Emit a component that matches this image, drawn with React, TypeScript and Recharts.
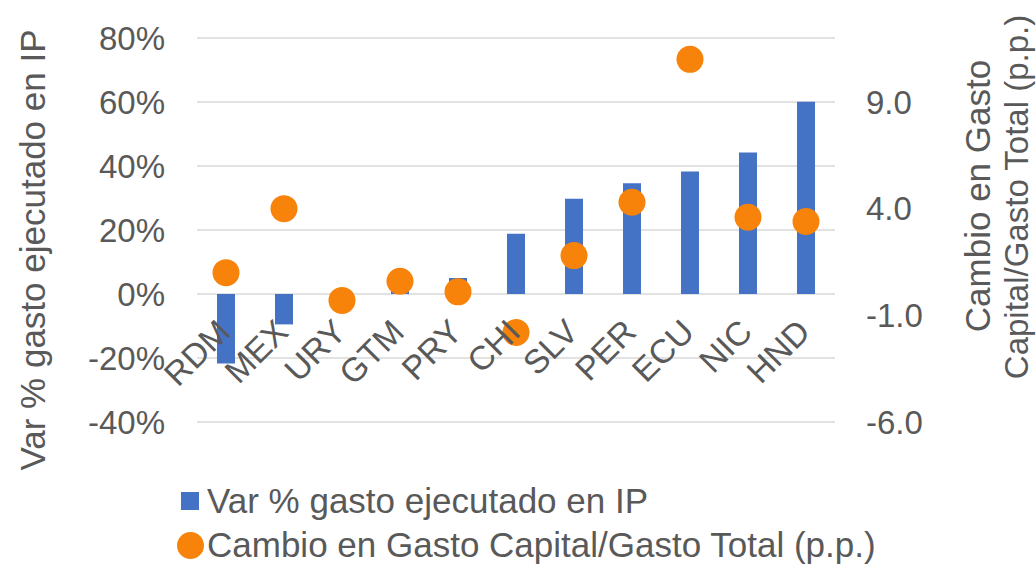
import React from 'react';
import { ComposedChart, Bar, Line, XAxis, YAxis, CartesianGrid, Legend } from 'recharts';

const paises = ['RDM', 'MEX', 'URY', 'GTM', 'PRY', 'CHI', 'SLV', 'PER', 'ECU', 'NIC', 'HND'];
const varGasto = [-21.7, -9.5, 0, 3.2, 5, 18.8, 29.8, 34.6, 38.3, 44.2, 60.1];
const cambioCapital = [1.0, 4.0, -0.3, 0.6, 0.1, -1.8, 1.8, 4.3, 11.0, 3.6, 3.4];

const leftTicks = [-40, -20, 0, 20, 40, 60, 80];
const rightTicks = [-6, -1, 4, 9];
const rightDomain = [-6, 12];

const serieBarras = 'Var % gasto ejecutado en IP';
const serieDots = 'Cambio en Gasto Capital/Gasto Total (p.p.)';
const tituloIzq = 'Var % gasto ejecutado en IP';
const tituloDer = ['Cambio en Gasto', 'Capital/Gasto Total (p.p.)'];

const data = paises.map((pais, i) => ({ pais, varGasto: varGasto[i], cambio: cambioCapital[i] }));

const W = 1036;
const H = 564;
const TOP = 38;
const X_AXIS_H = 142;
const PLOT_H = H - TOP - X_AXIS_H;
const LEFT_MIN = leftTicks[0];
const LEFT_MAX = leftTicks[leftTicks.length - 1];
// y of the zero line, where Excel puts the category labels
const zeroY = TOP + (PLOT_H * LEFT_MAX) / (LEFT_MAX - LEFT_MIN);

const GREY = '#595959';
const BLUE = '#4472C4';
const ORANGE = '#F7830A';
const FONT = '"Liberation Sans", Arial, sans-serif';

const CategoryTick = (props: any) => {
  const { x, payload } = props;
  const ax = x + 6;
  const ay = zeroY + 40;
  return (
    <text
      x={ax}
      y={ay}
      textAnchor="end"
      fill={GREY}
      fontSize={33.5}
      fontFamily={FONT}
      transform={`rotate(-45 ${ax} ${ay})`}
    >
      {payload.value}
    </text>
  );
};

const LeftTitle = () => (
  <text
    x={32}
    y={250}
    textAnchor="middle"
    dominantBaseline="central"
    fill={GREY}
    fontSize={35}
    fontFamily={FONT}
    transform="rotate(-90 32 250)"
  >
    {tituloIzq}
  </text>
);

// second line is slightly smaller so it fits inside the top edge
const RightTitle = () => (
  <g>
    <text
      x={977}
      y={196}
      textAnchor="middle"
      dominantBaseline="central"
      fill={GREY}
      fontSize={35}
      fontFamily={FONT}
      transform="rotate(-90 977 196)"
    >
      {tituloDer[0]}
    </text>
    <text
      x={1016}
      y={197}
      textAnchor="middle"
      dominantBaseline="central"
      fill={GREY}
      fontSize={33}
      fontFamily={FONT}
      transform="rotate(-90 1016 197)"
    >
      {tituloDer[1]}
    </text>
  </g>
);

const LegendContent = () => (
  <div style={{ fontFamily: FONT, color: GREY, fontSize: 35, lineHeight: '44px' }}>
    <div style={{ display: 'flex', alignItems: 'center' }}>
      <span style={{ width: 18, height: 18, background: BLUE, marginLeft: 8, marginRight: 8 }} />
      <span>{serieBarras}</span>
    </div>
    <div style={{ display: 'flex', alignItems: 'center' }}>
      <span style={{ width: 27, height: 27, borderRadius: '50%', background: ORANGE, marginLeft: 4, marginRight: 3 }} />
      <span>{serieDots}</span>
    </div>
  </div>
);

export default function App() {
  return (
    <div style={{ position: 'absolute', left: 0, top: 0, width: W, height: H, background: '#fff' }}>
      <ComposedChart width={W} height={H} data={data} margin={{ top: TOP, right: 0, bottom: 0, left: 0 }}>
        <CartesianGrid yAxisId="left" vertical={false} stroke="#D9D9D9" strokeWidth={1.5} />
        <XAxis
          dataKey="pais"
          height={X_AXIS_H}
          axisLine={false}
          tickLine={false}
          interval={0}
          tick={<CategoryTick />}
        />
        <YAxis
          yAxisId="left"
          orientation="left"
          width={197}
          domain={[LEFT_MIN, LEFT_MAX]}
          ticks={leftTicks}
          tickFormatter={(v: number) => `${v}%`}
          axisLine={false}
          tickLine={false}
          tickSize={0}
          tickMargin={32}
          tick={{ fill: GREY, fontSize: 33, fontFamily: FONT }}
          label={<LeftTitle />}
        />
        <YAxis
          yAxisId="right"
          orientation="right"
          width={201}
          domain={rightDomain}
          ticks={rightTicks}
          tickFormatter={(v: number) => v.toFixed(1)}
          axisLine={false}
          tickLine={false}
          tickSize={0}
          tickMargin={31}
          tick={{ fill: GREY, fontSize: 33, fontFamily: FONT, textAnchor: 'start' }}
          label={<RightTitle />}
        />
        <Legend
          layout="horizontal"
          verticalAlign="middle"
          align="center"
          wrapperStyle={{ top: 479, left: 173, width: 'auto', height: 'auto' }}
          content={<LegendContent />}
        />
        <Bar yAxisId="left" dataKey="varGasto" name={serieBarras} fill={BLUE} barSize={18} isAnimationActive={false} />
        <Line
          yAxisId="right"
          dataKey="cambio"
          name={serieDots}
          stroke="none"
          dot={{ r: 13.5, fill: ORANGE, stroke: 'none' }}
          activeDot={false}
          isAnimationActive={false}
        />
      </ComposedChart>
    </div>
  );
}
